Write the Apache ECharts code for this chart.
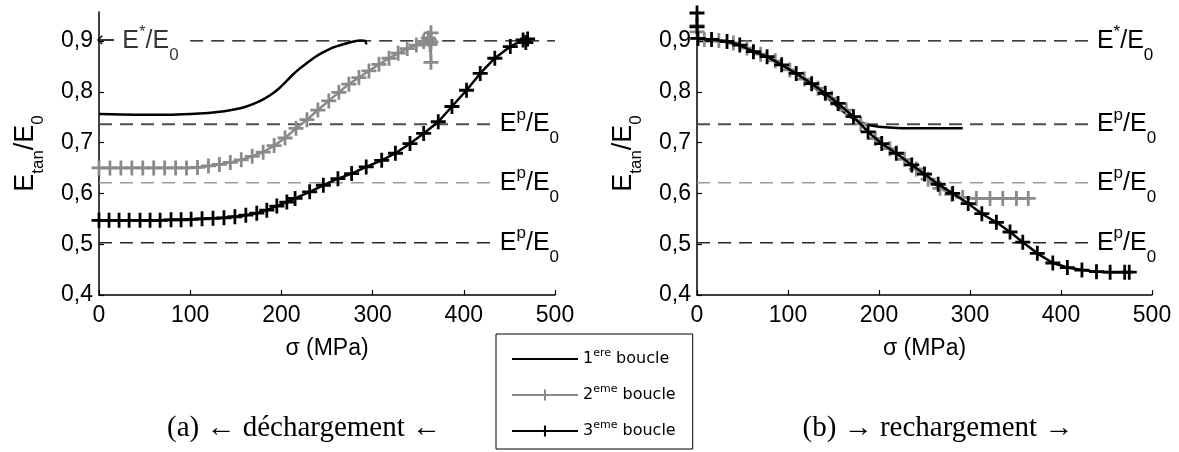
<!DOCTYPE html>
<html><head><meta charset="utf-8">
<script src="https://cdn.jsdelivr.net/npm/echarts@6/dist/echarts.min.js"></script>
<style>html,body{margin:0;padding:0;background:#fff}#c{width:1179px;height:452px}</style>
</head><body><div id="c"></div>
<script>
// ---------- data ----------
const xTicks = [0, 100, 200, 300, 400, 500];
const yTicks = [0.4, 0.5, 0.6, 0.7, 0.8, 0.9];
const refLevels = [0.9, 0.736, 0.621, 0.503];
const refSup = ['*', 'p', 'p', 'p'];
const refStart = [0, 0, 0, 0];
const refEnd = [434, 434, 434, 434];
const leftStarStart = 100;           // (a) E*/E0 dashed line start (label on the left)
const leftStarEnd = 500;
const seriesNames = ['1', '2', '3'];
const seriesSup = ['ere', 'eme', 'eme'];

// (a) déchargement
const L1x = [0, 40, 80, 110, 130, 145, 160, 172, 182, 190, 197, 204, 211, 219, 227, 235, 245, 255, 265, 277, 287, 292, 293];
const L1y = [0.756, 0.755, 0.755, 0.757, 0.760, 0.764, 0.770, 0.778, 0.787, 0.796, 0.806, 0.818, 0.831, 0.844, 0.855, 0.866, 0.877, 0.886, 0.892, 0.898, 0.901, 0.900, 0.893];
const L2x = [0, 12, 24, 36, 48, 60, 72, 84, 96, 108, 120, 132, 144, 156, 168, 180, 192, 204, 216, 228, 240, 252, 263, 274, 285, 296, 307, 318, 328, 338, 348, 356, 361, 364, 364, 364, 363, 362];
const L2y = [0.650, 0.650, 0.650, 0.650, 0.650, 0.650, 0.650, 0.650, 0.650, 0.651, 0.654, 0.657, 0.661, 0.666, 0.673, 0.681, 0.694, 0.709, 0.728, 0.745, 0.764, 0.782, 0.799, 0.815, 0.828, 0.841, 0.854, 0.866, 0.876, 0.885, 0.892, 0.899, 0.906, 0.916, 0.898, 0.858, 0.893, 0.903];
const L3x = [0, 11, 22, 33, 45, 56, 67, 79, 90, 101, 113, 125, 137, 149, 161, 173, 184, 195, 206, 215, 231, 246, 262, 277, 293, 310, 325, 341, 356, 372, 387, 403, 418, 434, 451, 465, 468, 470];
const L3y = [0.547, 0.547, 0.547, 0.547, 0.547, 0.547, 0.547, 0.548, 0.548, 0.549, 0.550, 0.551, 0.552, 0.554, 0.557, 0.561, 0.567, 0.575, 0.583, 0.590, 0.603, 0.616, 0.629, 0.639, 0.652, 0.665, 0.679, 0.698, 0.718, 0.741, 0.771, 0.803, 0.836, 0.866, 0.889, 0.902, 0.897, 0.904];

// (b) rechargement
const R1x = [0, 20, 40, 60, 80, 100, 115, 127, 140, 150, 160, 170, 180, 190, 200, 215, 235, 260, 292];
const R1y = [0.900, 0.900, 0.895, 0.882, 0.866, 0.846, 0.828, 0.812, 0.793, 0.778, 0.762, 0.749, 0.740, 0.734, 0.731, 0.729, 0.728, 0.728, 0.728];
const R2x = [0, 0, 1, 8, 24, 40, 55, 70, 86, 102, 118, 133, 148, 164, 180, 196, 212, 228, 241, 254, 267, 280, 292, 307, 322, 336, 351, 364];
const R2y = [0.930, 0.918, 0.905, 0.903, 0.901, 0.896, 0.886, 0.874, 0.861, 0.843, 0.825, 0.807, 0.787, 0.764, 0.737, 0.708, 0.688, 0.667, 0.648, 0.628, 0.610, 0.598, 0.592, 0.590, 0.590, 0.590, 0.590, 0.590];
const R3x = [0, 0, 1, 16, 33, 47, 62, 77, 93, 109, 126, 141, 155, 172, 188, 203, 219, 236, 250, 265, 281, 298, 313, 329, 344, 358, 374, 391, 407, 423, 439, 454, 470, 475];
const R3y = [0.955, 0.928, 0.905, 0.903, 0.899, 0.892, 0.879, 0.869, 0.853, 0.836, 0.816, 0.797, 0.777, 0.751, 0.721, 0.698, 0.679, 0.656, 0.638, 0.618, 0.600, 0.580, 0.560, 0.543, 0.524, 0.504, 0.482, 0.463, 0.454, 0.449, 0.446, 0.445, 0.445, 0.445];

// ---------- helpers ----------
const zip = (xs, ys) => xs.map((x, i) => [x, ys[i]]);
const SANS = "'Liberation Sans', Arial, sans-serif";
const SERIF = "'Liberation Serif', 'Times New Roman', serif";
const PLUS = 'path://M0,5.7H14V8.3H0Z M5.7,0H8.3V14H5.7Z';
const GRAY = '#8a8a8a';
const refColors = ['#000000', '#4d4d4d', '#9a9a9a', '#262626'];
const refWidths = [1.2, 2, 1.5, 1.5];
const supSub = {
  sup: { fontSize: 17, fontFamily: SANS, color: '#000', padding: [0, 0, 18, 0] },
  sub: { fontSize: 17, fontFamily: SANS, color: '#000', padding: [29, 0, 0, 0] },
  arr: { fontSize: 23, fontFamily: 'DejaVu Sans', color: '#000' }
};
const fmtY = v => v.toFixed(1).replace('.', ',');

function axes(gi) {
  return {
    x: {
      type: 'value', gridIndex: gi, min: 0, max: 500, interval: 100,
      axisLine: { show: true, lineStyle: { color: '#000', width: 1.5 } },
      axisTick: { show: true, inside: true, length: 5, customValues: xTicks, lineStyle: { color: '#000', width: 1.2 } },
      axisLabel: { customValues: xTicks, margin: 9, fontSize: 23, color: '#000', fontFamily: SANS },
      splitLine: { show: false },
      name: 'σ (MPa)', nameLocation: 'middle', nameGap: 42,
      nameTextStyle: { fontSize: 23, color: '#000', fontFamily: SANS }
    },
    y: {
      type: 'value', gridIndex: gi, min: 0.4, max: 0.957,
      axisLine: { show: true, lineStyle: { color: '#000', width: 1.5 } },
      axisTick: { show: true, inside: true, length: 5, customValues: yTicks, lineStyle: { color: '#000', width: 1.2 } },
      axisLabel: { customValues: yTicks, formatter: fmtY, margin: 6, fontSize: 23, color: '#000', fontFamily: SANS },
      splitLine: { show: false },
      name: 'E{sub|tan}/E{sub|0}', nameLocation: 'middle', nameRotate: 90, nameGap: 52,
      nameTextStyle: {
        fontSize: 27, color: '#000', fontFamily: SANS,
        rich: { sub: { fontSize: 17, fontFamily: SANS, color: '#000', padding: [26, 0, 0, 0] } }
      }
    }
  };
}
const A0 = axes(0), A1 = axes(1);

function refSeries(gi, i, x0, x1, withLabel) {
  return {
    type: 'line', xAxisIndex: gi, yAxisIndex: gi, z: 1, silent: true,
    data: [[x0, refLevels[i]], [x1, refLevels[i]]],
    symbol: 'none', animation: false,
    lineStyle: { color: refColors[i], width: refWidths[i], type: [13, 8] },
    emphasis: { disabled: true },
    endLabel: withLabel ? {
      show: true, distance: 5, color: '#000', fontSize: 25, fontFamily: SANS,
      formatter: 'E{sup|' + refSup[i] + '}/E{sub|0}', rich: supSub
    } : { show: false }
  };
}
function curve(gi, k, xs, ys, withSym, smooth) {
  const color = k === 1 ? GRAY : '#000';
  return {
    name: seriesNames[k], type: 'line', xAxisIndex: gi, yAxisIndex: gi, z: 3 + k,
    data: zip(xs, ys), animation: false, smooth: smooth,
    symbol: withSym ? PLUS : 'none', symbolSize: 15, showSymbol: withSym, showAllSymbol: true,
    itemStyle: { color: color, borderWidth: 0 },
    lineStyle: { color: color, width: 2.5 },
    emphasis: { disabled: true }
  };
}

const series = [];
series.push(refSeries(0, 0, leftStarStart, leftStarEnd, false));
for (let i = 1; i < 4; i++) series.push(refSeries(0, i, refStart[i], refEnd[i], true));
series.push({
  type: 'scatter', xAxisIndex: 0, yAxisIndex: 0, silent: true, z: 2,
  data: [[0, refLevels[0]]], symbolSize: 0, animation: false,
  label: {
    show: true, position: 'right', distance: -3, color: '#000', fontSize: 25, fontFamily: SANS,
    formatter: '{arr|←} E{sup|*}/E{sub|0}', rich: supSub
  }
});
for (let i = 0; i < 4; i++) series.push(refSeries(1, i, refStart[i], refEnd[i], true));
series.push(curve(0, 0, L1x, L1y, false, 0.3));
series.push(curve(0, 1, L2x, L2y, true, false));
series.push(curve(0, 2, L3x, L3y, true, false));
series.push(curve(1, 0, R1x, R1y, false, 0.3));
series.push(curve(1, 1, R2x, R2y, true, false));
series.push(curve(1, 2, R3x, R3y, true, false));

const chart = echarts.init(document.getElementById('c'), null, { renderer: 'canvas' });
chart.setOption({
  animation: false,
  backgroundColor: '#fff',
  grid: [
    { left: 99, top: 12, width: 456, height: 283, outerBoundsMode: 'none', containLabel: false },
    { left: 697, top: 12, width: 455, height: 283, outerBoundsMode: 'none', containLabel: false }
  ],
  xAxis: [A0.x, A1.x],
  yAxis: [A0.y, A1.y],
  legend: {
    orient: 'vertical', left: 496, top: 334, selectedMode: false,
    padding: [14, 17, 10, 15], itemGap: 17, itemWidth: 66, itemHeight: 14,
    borderColor: '#000', borderWidth: 1, backgroundColor: '#fff',
    data: [
      { name: '1', itemStyle: { color: 'rgba(0,0,0,0)', borderWidth: 0, opacity: 0 } },
      { name: '2' }, { name: '3' }
    ],
    formatter: n => n + '{sup|' + seriesSup[seriesNames.indexOf(n)] + '} boucle',
    textStyle: {
      fontSize: 16, color: '#000', fontFamily: 'DejaVu Sans',
      rich: { sup: { fontSize: 11, fontFamily: 'DejaVu Sans', color: '#000', padding: [0, 0, 11, 0] } }
    }
  },
  graphic: [
    { type: 'text', x: 304, y: 428, style: { text: '(a) ← déchargement ←', font: '29px ' + SERIF, fill: '#000', align: 'center', verticalAlign: 'middle' } },
    { type: 'text', x: 938, y: 428, style: { text: '(b) → rechargement →', font: '29px ' + SERIF, fill: '#000', align: 'center', verticalAlign: 'middle' } }
  ],
  series: series
});
</script>
</body></html>
